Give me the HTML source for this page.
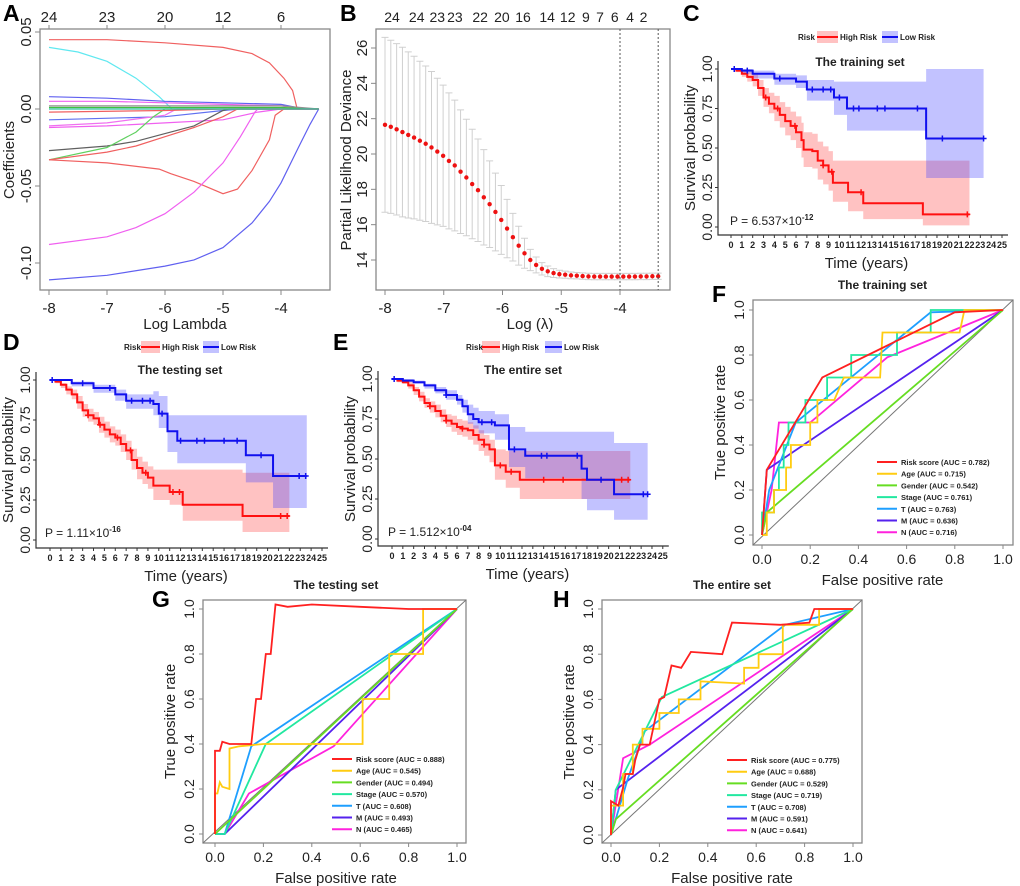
<!DOCTYPE html>
<html><head><meta charset="utf-8"><style>
html,body{margin:0;padding:0;background:#fff;}
svg{display:block;font-family:"Liberation Sans",sans-serif;}
</style></head><body>
<svg id="fig" width="1020" height="886" viewBox="0 0 1020 886"></svg>
<script>
const NS='http://www.w3.org/2000/svg';
const svg=document.getElementById('fig');
// ---------- Panel A data (lasso coefficient paths) ----------
const aLogLambda=[[-8,-7,-6,-5,-4.5,-4.2,-3.95,-3.8,-3.72,-3.35],[-8,-7.5,-7,-6.5,-6.1,-5.88,-3.35],[-8,-7,-6,-5,-4,-3.6,-3.35],[-8,-7,-6,-5,-4,-3.5,-3.35],[-8,-6,-5,-4.7,-3.35],[-8,-7,-6,-5,-4.4,-4,-3.35],[-8,-7,-6,-5.8,-3.35],[-8,-7,-6.5,-6,-5.5,-5.2,-5,-4.9,-3.35],[-8,-7,-6.5,-6.2,-6,-3.35],[-8,-7,-6.5,-6,-5.5,-5,-4.75,-3.35],[-8,-7,-6.1,-5.9,-5.5,-5,-4.75,-4.5,-4.2,-4.1,-3.95,-3.35],[-8,-7,-6.5,-6,-5.5,-5,-4.7,-4.45,-4.4,-3.35],[-8,-7,-6,-5.5,-5,-4.5,-4.2,-4,-3.7,-3.5,-3.35],[-8,-6,-4,-3.35],[-8,-6,-4,-3.35],[-8,-6,-5,-3.35],[-8,-6,-4.5,-3.35]];
const aCoef=[[0.045,0.045,0.043,0.04,0.036,0.03,0.02,0.012,0,0],[0.040,0.037,0.031,0.020,0.008,0,0],[0.008,0.007,0.005,0.004,0.003,0,0],[0.005,0.005,0.004,0.003,0.002,0,0],[-0.007,-0.005,-0.001,0,0],[-0.012,-0.011,-0.009,-0.007,-0.002,0,0],[-0.011,-0.009,-0.004,0,0],[-0.027,-0.024,-0.021,-0.016,-0.011,-0.005,-0.001,0,0],[-0.033,-0.025,-0.015,-0.005,0,0],[-0.033,-0.028,-0.024,-0.018,-0.012,-0.005,0,0],[-0.033,-0.035,-0.039,-0.042,-0.047,-0.055,-0.052,-0.04,-0.02,-0.004,0,0],[-0.088,-0.083,-0.077,-0.068,-0.054,-0.035,-0.018,-0.002,0,0],[-0.111,-0.108,-0.102,-0.098,-0.090,-0.074,-0.06,-0.048,-0.025,-0.01,0],[0.001,0.001,0.001,0],[0.002,0.002,0.002,0],[-0.002,-0.001,0,0],[0.0,0.0,0.0,0]];
const aColors=['#f06060','#60e8f0','#6060f0','#f060f0','#6070f0','#f060f0','#f070f0','#606060','#60d060','#f06060','#f06060','#f060f0','#6060f0','#40c040','#909090','#f06060','#30c0a0'];
const aTopX=[-8,-7,-6,-5,-4];
const aTopLabels=['24','23','20','12','6'];
const aXTicks=[-8,-7,-6,-5,-4];
const aYTicks=[0.05,0.00,-0.05,-0.10];
// ---------- Panel B data ----------
const bMean=[21.65,21.54,21.4,21.24,21.08,20.93,20.75,20.58,20.37,20.14,19.9,19.61,19.35,19.0,18.67,18.3,17.95,17.55,17.16,16.72,16.27,15.78,15.29,14.81,14.38,14.0,13.72,13.5,13.36,13.26,13.2,13.17,13.13,13.11,13.09,13.07,13.06,13.06,13.06,13.06,13.06,13.06,13.06,13.06,13.07,13.07,13.08,13.08];
const bSE=[4.95,4.9,4.85,4.8,4.7,4.6,4.5,4.4,4.3,4.15,4.0,3.85,3.7,3.5,3.3,3.1,2.9,2.7,2.45,2.2,1.95,1.65,1.35,1.1,0.85,0.6,0.45,0.35,0.3,0.25,0.22,0.2,0.19,0.18,0.18,0.18,0.18,0.18,0.18,0.18,0.18,0.18,0.18,0.18,0.18,0.18,0.18,0.18];
const bStart=-8, bEnd=-3.35;
const bVLines=[-4,-3.35];
const bTopX=[-7.88,-7.46,-7.11,-6.81,-6.38,-6.01,-5.65,-5.24,-4.89,-4.58,-4.34,-4.09,-3.83,-3.6];
const bTopLabels=['24','24','23','23','22','20','16','14','12','9','7','6','4','2'];
const bXTicks=[-8,-7,-6,-5,-4];
const bYTicks=[14,16,18,20,22,24,26];
// ---------- KM data ----------
const cHighT=[0,0.5,1,1.5,2,2.5,3,3.5,4,4.5,5,5.5,6,6.5,6.7,7.5,8,8.5,9,9.4,10.8,12.2,17.7];
const cHighS=[1,0.99,0.97,0.95,0.93,0.88,0.82,0.78,0.75,0.71,0.67,0.64,0.6,0.55,0.49,0.48,0.42,0.39,0.35,0.28,0.22,0.15,0.08];
const cHighHi=[1,1,0.99,0.98,0.97,0.93,0.88,0.85,0.83,0.79,0.76,0.73,0.7,0.66,0.6,0.59,0.54,0.51,0.48,0.42,0.42,0.42,0.42];
const cHighLo=[1,0.98,0.95,0.92,0.89,0.83,0.76,0.72,0.67,0.63,0.58,0.55,0.5,0.44,0.38,0.37,0.3,0.27,0.23,0.16,0.1,0.05,0.01];
const cHighCens=[3.2,4.3,5.9,8.5,9.3,12,21.8];
const cLowT=[0,1,2,4,6,7,9.5,10.7,18];
const cLowS=[1,0.99,0.97,0.94,0.92,0.87,0.82,0.75,0.56];
const cLowHi=[1,1,0.99,0.97,0.96,0.93,0.92,0.92,1.0];
const cLowLo=[1,0.97,0.94,0.9,0.88,0.8,0.71,0.61,0.31];
const cLowCens=[0.3,1.5,4.5,7.5,8.5,9.2,10,11.3,11.8,13.5,14.2,17.2,19.5,23.3];
const dHighT=[0,0.5,1,1.5,2,2.5,3,3.5,4,4.5,5,5.5,6,6.5,7,7.5,8,8.5,9,9.5,11,12.2,17.7];
const dHighS=[1,0.99,0.97,0.94,0.91,0.86,0.81,0.78,0.76,0.72,0.69,0.66,0.64,0.6,0.56,0.5,0.45,0.42,0.39,0.34,0.3,0.22,0.15];
const dHighHi=[1,1,0.98,0.96,0.94,0.9,0.85,0.82,0.8,0.77,0.74,0.71,0.69,0.66,0.62,0.57,0.52,0.49,0.46,0.44,0.44,0.44,0.42];
const dHighLo=[1,0.98,0.95,0.91,0.88,0.82,0.77,0.74,0.72,0.67,0.64,0.61,0.59,0.55,0.5,0.44,0.38,0.35,0.32,0.25,0.22,0.12,0.05];
const dHighCens=[3.5,4.6,6.2,7.4,8.8,11.3,11.9,21.2,21.8];
const dLowT=[0,2,4,6,7,9.5,10,10.8,11.7,18,20.5];
const dLowS=[1,0.98,0.95,0.91,0.87,0.85,0.79,0.68,0.62,0.53,0.40];
const dLowHi=[1,0.99,0.97,0.94,0.91,0.93,0.9,0.78,0.78,0.78,0.78];
const dLowLo=[1,0.96,0.92,0.87,0.82,0.78,0.7,0.55,0.48,0.36,0.2];
const dLowCens=[0.2,3,5.5,7.5,8.5,9.2,10.3,12,13.5,14.2,16,17.2,19.4,22.9,23.5];
const eHighT=[0,0.5,1,1.5,2,2.5,3,3.5,4,4.5,5,5.5,6,6.5,7,7.5,8,8.5,9,9.5,10.5,11.8];
const eHighS=[1,0.99,0.98,0.96,0.93,0.89,0.85,0.83,0.8,0.77,0.74,0.72,0.7,0.69,0.68,0.65,0.62,0.59,0.56,0.46,0.42,0.37];
const eHighHi=[1,1,0.99,0.98,0.95,0.92,0.88,0.86,0.84,0.81,0.78,0.77,0.75,0.74,0.73,0.71,0.68,0.65,0.62,0.56,0.55,0.55];
const eHighLo=[1,0.98,0.97,0.94,0.9,0.86,0.82,0.79,0.76,0.73,0.7,0.67,0.65,0.64,0.62,0.59,0.55,0.52,0.48,0.37,0.32,0.25];
const eHighCens=[3.5,5,6.5,8.5,10,11,14,15.8,21.2,21.8];
const eLowT=[0,1,2,3,4,5,6,6.5,7,7.5,8,9.5,10.8,12.3,17.5,18,20.5];
const eLowS=[1,0.99,0.98,0.96,0.93,0.9,0.87,0.83,0.78,0.75,0.73,0.71,0.56,0.52,0.44,0.37,0.28];
const eLowHi=[1,1,0.99,0.97,0.95,0.93,0.9,0.87,0.84,0.82,0.8,0.78,0.7,0.67,0.67,0.67,0.6];
const eLowLo=[1,0.98,0.97,0.94,0.91,0.87,0.84,0.79,0.72,0.69,0.66,0.62,0.45,0.38,0.25,0.18,0.12];
const eLowCens=[0.2,5,8.3,9.2,11.3,13.8,14.3,17.1,19.3,23.2,23.6];
const kmXTicks=[0,1,2,3,4,5,6,7,8,9,10,11,12,13,14,15,16,17,18,19,20,21,22,23,24,25];
const kmYTicks=[0,0.25,0.5,0.75,1];
const kmYLabels=['0.00','0.25','0.50','0.75','1.00'];
// ---------- ROC data ----------
const rocNames=['Risk score','Age','Gender','Stage','T','M','N'];
const rocColors=['#ff2020','#ffcc11','#66dd22','#22e8a0','#1e9fff','#5522ee','#ff22dd'];
const fAUC=['0.782','0.715','0.542','0.761','0.763','0.636','0.716'];
const fFPR=[[0,0.02,0.25,0.8,1],[0,0.02,0.02,0.05,0.05,0.07,0.1,0.1,0.12,0.12,0.2,0.2,0.23,0.23,0.3,0.34,0.49,0.5,0.57,0.82,0.84,1],[0,0.02,1],[0,0,0.05,0.05,0.07,0.07,0.09,0.09,0.11,0.11,0.18,0.18,0.27,0.27,0.37,0.37,0.56,0.56,0.7,0.7,1],[0,0.03,0.14,0.7,1],[0,0.02,1],[0,0.04,0.07,0.2,0.52,1]];
const fTPR=[[0,0.29,0.70,0.99,1],[0,0,0.1,0.1,0.2,0.2,0.2,0.3,0.3,0.4,0.4,0.5,0.5,0.6,0.6,0.7,0.7,0.9,0.9,0.9,1,1],[0,0.1,1],[0,0.1,0.1,0.2,0.2,0.3,0.3,0.4,0.4,0.5,0.5,0.6,0.6,0.7,0.7,0.8,0.8,0.9,0.9,1,1],[0,0.2,0.5,0.99,1],[0,0.29,1],[0,0.2,0.5,0.5,0.79,1]];
const gAUC=['0.888','0.545','0.494','0.570','0.608','0.493','0.465'];
const gFPR=[[0,0,0.02,0.03,0.06,0.1,0.15,0.17,0.19,0.21,0.23,0.25,0.3,0.4,0.6,0.8,1],[0,0,0.01,0.02,0.03,0.06,0.06,0.1,0.2,0.4,0.61,0.61,0.72,0.72,0.86,0.86,1],[0,1],[0,0.04,0.21,1],[0,0.04,0.15,1],[0,0.04,1],[0,0.04,0.14,0.49,1]];
const gTPR=[[0,0.37,0.37,0.41,0.4,0.4,0.4,0.6,0.6,0.8,0.8,1.02,1.01,1.02,1.01,1.0,1],[0,0.18,0.18,0.23,0.21,0.2,0.38,0.39,0.4,0.4,0.4,0.6,0.6,0.8,0.8,1.0,1],[0,1],[0,0,0.4,1],[0,0,0.39,1],[0,0,1],[0,0,0.18,0.39,1]];
const hAUC=['0.775','0.688','0.529','0.719','0.708','0.591','0.641'];
const hFPR=[[0,0,0.03,0.05,0.06,0.09,0.1,0.12,0.16,0.2,0.22,0.25,0.29,0.33,0.46,0.5,0.7,0.82,0.84,1],[0,0,0.05,0.05,0.09,0.09,0.13,0.13,0.2,0.2,0.28,0.28,0.37,0.37,0.55,0.55,0.61,0.61,0.71,0.71,0.86,0.86,1],[0,0.02,1],[0,0.02,0.21,1],[0,0.07,0.14,0.72,1],[0,0.02,1],[0,0.05,0.16,1]];
const hTPR=[[0,0.15,0.13,0.21,0.27,0.27,0.33,0.4,0.4,0.6,0.61,0.75,0.74,0.81,0.8,0.94,0.93,0.94,1.0,1],[0,0.13,0.13,0.27,0.27,0.4,0.4,0.47,0.47,0.54,0.54,0.6,0.6,0.68,0.67,0.74,0.74,0.8,0.8,0.93,0.93,1.0,1],[0,0.07,1],[0,0.2,0.61,1],[0,0.25,0.46,0.93,1],[0,0.2,1],[0,0.34,0.4,1]];
const rocTicks=[0,0.2,0.4,0.6,0.8,1.0];
const rocTickLabels=['0.0','0.2','0.4','0.6','0.8','1.0'];

// ---------- helpers ----------
function mk(tag,attrs,name,inter,parent){
  const el=document.createElementNS(NS,tag);
  for(const k in attrs) el.setAttribute(k,attrs[k]);
  
  
  (parent||svg).appendChild(el);
  return el;
}
function txt(x,y,s,size,name,extra,parent){
  const a=Object.assign({x:x,y:y,'font-size':size,fill:'#222'},extra||{});
  const el=mk('text',a,name,false,parent);
  el.textContent=s;
  return el;
}
function grp(name){return mk('g',{},name,false);}
function lin(x0,x1,v0,v1){return v=>x0+(v-v0)*(x1-x0)/(v1-v0);}

// panel letters
[['A',3,21],['B',340,21],['C',683,21],['D',3,350],['E',333,350],['F',712,302],['G',152,607],['H',553,607]].forEach(p=>{
  txt(p[1],p[2],p[0],23,'panel-label-'+p[0].toLowerCase(),{'font-weight':'bold',fill:'#000'});
});

// ---------- Panel A ----------
(function(){
  const g=grp('panel-a-lasso-paths');
  const X=lin(49,281,-8,-4), Y=lin(109,263,0,-0.10);
  mk('rect',{x:40,y:29,width:290,height:261,fill:'none',stroke:'#888','stroke-width':1.3},'plot-frame',false,g);
  aLogLambda.forEach((xs,i)=>{
    const d=xs.map((x,j)=>(j?'L':'M')+X(x).toFixed(1)+','+Y(aCoef[i][j]).toFixed(1)).join('');
    mk('path',{d:d,fill:'none',stroke:aColors[i],'stroke-width':1.2},'coef-path',false,g);
  });
  aXTicks.forEach(v=>{mk('line',{x1:X(v),x2:X(v),y1:290,y2:295,stroke:'#888'},'x-tick',false,g);txt(X(v),313,String(v),15,'x-tick-label',{'text-anchor':'middle'},g);});
  aTopX.forEach((v,i)=>{mk('line',{x1:X(v),x2:X(v),y1:29,y2:25,stroke:'#888'},'top-tick',false,g);txt(X(v),22,aTopLabels[i],15,'top-tick-label',{'text-anchor':'middle'},g);});
  aYTicks.forEach(v=>{const y=Y(v);mk('line',{x1:35,x2:40,y1:y,y2:y,stroke:'#888'},'y-tick',false,g);txt(31,y,v.toFixed(2),15,'y-tick-label',{'text-anchor':'middle',transform:'rotate(-90 31 '+y+')'},g);});
  txt(185,329,'Log Lambda',15,'x-axis-title',{'text-anchor':'middle'},g);
  txt(14,160,'Coefficients',15,'y-axis-title',{'text-anchor':'middle',transform:'rotate(-90 14 160)'},g);
})();

// ---------- Panel B ----------
(function(){
  const g=grp('panel-b-cv-deviance');
  const X=lin(385,620,-8,-4), Y=lin(260,48,14,26);
  mk('rect',{x:376,y:29,width:294,height:261,fill:'none',stroke:'#888','stroke-width':1.3},'plot-frame',false,g);
  const n=bMean.length;
  bMean.forEach((m,i)=>{
    const lx=bStart+(bEnd-bStart)*i/(n-1), x=X(lx);
    const yt=Y(m+bSE[i]), yb=Y(m-bSE[i]);
    mk('path',{d:`M${x},${yt}V${yb}M${x-3.5},${yt}H${x+3.5}M${x-3.5},${yb}H${x+3.5}`,stroke:'#d0d0d0','stroke-width':1,fill:'none'},'error-bar',false,g);
  });
  bMean.forEach((m,i)=>{
    const lx=bStart+(bEnd-bStart)*i/(n-1);
    mk('circle',{cx:X(lx),cy:Y(m),r:2.2,fill:'#ee1111'},'deviance-point',false,g);
  });
  bVLines.forEach(v=>mk('line',{x1:X(v),x2:X(v),y1:29,y2:290,stroke:'#555','stroke-dasharray':'2,2'},'lambda-vline',false,g));
  bXTicks.forEach(v=>{mk('line',{x1:X(v),x2:X(v),y1:290,y2:295,stroke:'#888'},'x-tick',false,g);txt(X(v),313,String(v),15,'x-tick-label',{'text-anchor':'middle'},g);});
  bTopX.forEach((v,i)=>txt(X(v),22,bTopLabels[i],14,'top-tick-label',{'text-anchor':'middle'},g));
  bYTicks.forEach(v=>{const y=Y(v);mk('line',{x1:371,x2:376,y1:y,y2:y,stroke:'#888'},'y-tick',false,g);txt(367,y,String(v),15,'y-tick-label',{'text-anchor':'middle',transform:'rotate(-90 367 '+y+')'},g);});
  txt(530,329,'Log (λ)',15,'x-axis-title',{'text-anchor':'middle'},g);
  txt(351,160,'Partial Likelihood Deviance',15,'y-axis-title',{'text-anchor':'middle',transform:'rotate(-90 351 160)'},g);
})();

// ---------- KM panels ----------
function km(cfg){
  const g=grp(cfg.name);
  const X=lin(cfg.x0,cfg.x25,0,25), Y=lin(cfg.y0,cfg.y1,0,1);
  function ci(t,hi,lo,end,color,nm){
    let d='M'+X(0)+','+Y(hi[0]);
    for(let i=1;i<t.length;i++) d+='H'+X(t[i])+'V'+Y(hi[i]);
    d+='H'+X(end)+'V'+Y(lo[lo.length-1]);
    for(let i=t.length-1;i>0;i--) d+='H'+X(t[i])+'V'+Y(lo[i-1]);
    d+='H'+X(0)+'Z';
    mk('path',{d:d,fill:color,'fill-opacity':0.32,stroke:'none'},nm,false,g);
  }
  function curve(t,s,end,cens,color,nm){
    let d='M'+X(0)+','+Y(s[0]);
    for(let i=1;i<t.length;i++) d+='H'+X(t[i])+'V'+Y(s[i]);
    d+='H'+X(end);
    mk('path',{d:d,fill:'none',stroke:color,'stroke-width':2},nm,false,g);
    cens.forEach(c=>{let k=0;for(let i=0;i<t.length;i++) if(t[i]<=c)k=i;const x=X(c),y=Y(s[k]);
      mk('path',{d:`M${x-3},${y}H${x+3}M${x},${y-3}V${y+3}`,stroke:color,'stroke-width':1.5},'censor-mark',false,g);});
  }
  ci(cfg.hT,cfg.hHi,cfg.hLo,cfg.hEnd,'#ff4040','high-risk-ci');
  ci(cfg.lT,cfg.lHi,cfg.lLo,cfg.lEnd,'#4040ff','low-risk-ci');
  curve(cfg.hT,cfg.hS,cfg.hEnd,cfg.hC,'#ff1010','high-risk-curve');
  curve(cfg.lT,cfg.lS,cfg.lEnd,cfg.lC,'#1010ee','low-risk-curve');
  mk('path',{d:`M${cfg.ax},${Y(1)-8}V${cfg.ay}H${X(25)+6}`,fill:'none',stroke:'#333','stroke-width':1.2},'axes',false,g);
  kmXTicks.forEach(v=>{mk('line',{x1:X(v),x2:X(v),y1:cfg.ay,y2:cfg.ay+3,stroke:'#333'},'x-tick',false,g);
    txt(X(v),cfg.ay+13,String(v),9,'x-tick-label',{'text-anchor':'middle','font-weight':'bold'},g);});
  kmYTicks.forEach((v,i)=>{const y=Y(v);mk('line',{x1:cfg.ax-3,x2:cfg.ax,y1:y,y2:y,stroke:'#333'},'y-tick',false,g);
    txt(cfg.ax-6,y,kmYLabels[i],14,'y-tick-label',{'text-anchor':'middle',transform:`rotate(-90 ${cfg.ax-6} ${y})`},g);});
  txt(cfg.ax-23,(Y(0)+Y(1))/2,'Survival probability',15,'y-axis-title',{'text-anchor':'middle',transform:`rotate(-90 ${cfg.ax-23} ${(Y(0)+Y(1))/2})`},g);
  txt(X(12.5),cfg.ay+33,'Time (years)',15,'x-axis-title',{'text-anchor':'middle'},g);
  txt(cfg.tx,cfg.ty,cfg.title,12,'chart-title',{'text-anchor':'middle','font-weight':'bold'},g);
  const L=cfg.leg;
  txt(L[0],cfg.ly+3,'Risk',8,'legend-title',{'font-weight':'bold'},g);
  const lr=mk('g',{},'legend-entry-high-risk',true,g);
  mk('rect',{x:L[1],y:cfg.ly-6,width:L[2]-L[1],height:12,fill:'#ff4040','fill-opacity':0.32},'legend-swatch',false,lr);
  mk('line',{x1:L[1],x2:L[2],y1:cfg.ly,y2:cfg.ly,stroke:'#ff1010','stroke-width':2},'legend-line',false,lr);
  txt(L[2]+2,cfg.ly+3,'High Risk',8,'legend-label',{'font-weight':'bold'},lr);
  const lb=mk('g',{},'legend-entry-low-risk',true,g);
  mk('rect',{x:L[3],y:cfg.ly-6,width:L[4]-L[3],height:12,fill:'#4040ff','fill-opacity':0.32},'legend-swatch',false,lb);
  mk('line',{x1:L[3],x2:L[4],y1:cfg.ly,y2:cfg.ly,stroke:'#1010ee','stroke-width':2},'legend-line',false,lb);
  txt(L[4]+2,cfg.ly+3,'Low Risk',8,'legend-label',{'font-weight':'bold'},lb);
  const p=txt(cfg.px,cfg.py,'P = '+cfg.p+'×10',12,'p-value',{},g);
  const sup=document.createElementNS(NS,'tspan');sup.setAttribute('dy','-5');sup.setAttribute('font-size','8');sup.setAttribute('font-weight','bold');sup.textContent=cfg.exp;p.appendChild(sup);
}
km({name:'panel-c-km-training',x0:731,x25:1002,y0:227,y1:69,ax:718,ay:235,tx:860,ty:66,title:'The training set',ly:37,leg:[798,817,838,882,898],px:730,py:225,p:'6.537',exp:'-12',
  hT:cHighT,hS:cHighS,hHi:cHighHi,hLo:cHighLo,hEnd:22,hC:cHighCens,lT:cLowT,lS:cLowS,lHi:cLowHi,lLo:cLowLo,lEnd:23.3,lC:cLowCens});
km({name:'panel-d-km-testing',x0:50,x25:322,y0:540,y1:380,ax:36,ay:548,tx:180,ty:374,title:'The testing set',ly:347,leg:[124,141,160,203,219],px:45,py:537,p:'1.11',exp:'-16',
  hT:dHighT,hS:dHighS,hHi:dHighHi,hLo:dHighLo,hEnd:22,hC:dHighCens,lT:dLowT,lS:dLowS,lHi:dLowHi,lLo:dLowLo,lEnd:23.6,lC:dLowCens});
km({name:'panel-e-km-entire',x0:392,x25:662.8,y0:539,y1:379,ax:378,ay:546,tx:523,ty:374,title:'The entire set',ly:347,leg:[466,482,500,545,562],px:388,py:536,p:'1.512',exp:'-04',
  hT:eHighT,hS:eHighS,hHi:eHighHi,hLo:eHighLo,hEnd:22,hC:eHighCens,lT:eLowT,lS:eLowS,lHi:eLowHi,lLo:eLowLo,lEnd:23.6,lC:eLowCens});

// ---------- ROC panels ----------
function roc(cfg){
  const g=grp(cfg.name);
  const X=lin(cfg.x0,cfg.x1,0,1), Y=lin(cfg.y0,cfg.y1,0,1);
  mk('rect',{x:cfg.bx,y:cfg.by,width:cfg.bw,height:cfg.bh,fill:'none',stroke:'#888','stroke-width':1.3},'plot-frame',false,g);
  mk('line',{x1:cfg.bx,y1:cfg.by+cfg.bh,x2:cfg.bx+cfg.bw,y2:cfg.by,stroke:'#777','stroke-width':1},'diagonal-reference',false,g);
  for(let i=rocNames.length-1;i>=0;i--){
    const d=cfg.fpr[i].map((v,j)=>(j?'L':'M')+X(v).toFixed(1)+','+Y(cfg.tpr[i][j]).toFixed(1)).join('');
    mk('path',{d:d,fill:'none',stroke:rocColors[i],'stroke-width':1.8},'roc-curve-'+rocNames[i].toLowerCase().replace(' ','-'),false,g);
  }
  rocTicks.forEach((v,i)=>{
    mk('line',{x1:X(v),x2:X(v),y1:cfg.by+cfg.bh,y2:cfg.by+cfg.bh+4,stroke:'#888'},'x-tick',false,g);
    txt(X(v),cfg.by+cfg.bh+19,rocTickLabels[i],14,'x-tick-label',{'text-anchor':'middle'},g);
    const y=Y(v);
    mk('line',{x1:cfg.bx-4,x2:cfg.bx,y1:y,y2:y,stroke:'#888'},'y-tick',false,g);
    txt(cfg.bx-9,y,rocTickLabels[i],14,'y-tick-label',{'text-anchor':'middle',transform:`rotate(-90 ${cfg.bx-9} ${y})`},g);
  });
  txt(X(0.5),cfg.by+cfg.bh+40,'False positive rate',15,'x-axis-title',{'text-anchor':'middle'},g);
  const yc=(Y(0)+Y(1))/2;
  txt(cfg.bx-28,yc,'True positive rate',15,'y-axis-title',{'text-anchor':'middle',transform:`rotate(-90 ${cfg.bx-28} ${yc})`},g);
  txt(X(0.5),cfg.by-11,cfg.title,12,'chart-title',{'text-anchor':'middle','font-weight':'bold'},g);
  rocNames.forEach((nm,i)=>{
    const e=mk('g',{},'legend-entry-'+nm.toLowerCase().replace(' ','-'),true,g);
    const y=cfg.ly+i*11.7;
    mk('line',{x1:cfg.lx,x2:cfg.lx+20,y1:y,y2:y,stroke:rocColors[i],'stroke-width':2},'legend-line',false,e);
    txt(cfg.lx+24,y+3,nm+' (AUC = '+cfg.auc[i]+')',7.5,'legend-label',{'font-weight':'bold'},e);
  });
}
roc({name:'panel-f-roc-training',x0:762,x1:1003,y0:535,y1:310,bx:753,by:300,bw:260,bh:245,title:'The training set',lx:877,ly:462,fpr:fFPR,tpr:fTPR,auc:fAUC});
roc({name:'panel-g-roc-testing',x0:215,x1:457,y0:834,y1:609,bx:203,by:600,bw:263,bh:243,title:'The testing set',lx:332,ly:759,fpr:gFPR,tpr:gTPR,auc:gAUC});
roc({name:'panel-h-roc-entire',x0:611,x1:853,y0:835,y1:609,bx:602,by:600,bw:260,bh:243,title:'The entire set',lx:727,ly:760,fpr:hFPR,tpr:hTPR,auc:hAUC});
</script>
</body></html>
